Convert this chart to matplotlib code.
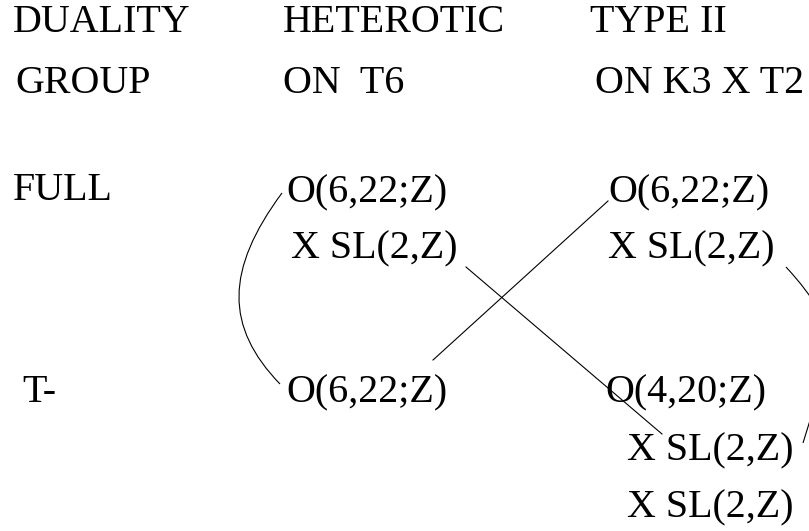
import matplotlib
matplotlib.use("Agg")
import matplotlib.pyplot as plt
from matplotlib.path import Path
from matplotlib.patches import PathPatch

# ---- content ----
header_line1 = ["DUALITY", "HETEROTIC", "TYPE II"]
header_line2 = ["GROUP", "ON  T6", "ON K3 X T2"]
row_labels = ["FULL", "T-"]
hetero_full = ["O(6,22;Z)", "X SL(2,Z)"]
typeii_full = ["O(6,22;Z)", "X SL(2,Z)"]
hetero_t = ["O(6,22;Z)"]
typeii_t = ["O(4,20;Z)", "X SL(2,Z)", "X SL(2,Z)"]

# ---- layout (pixel coordinates, y downward, baseline positions) ----
hdr_x = [13, 283, 590]
hdr2_x = [15, 283, 595]
hdr_y = [32, 93]
row_y = [200, 402]
row_x = [13, 22]
hf_pos = [(286, 202), (291, 258)]
tf_pos = [(608, 202), (608, 258)]
ht_pos = [(286, 402)]
tt_pos = [(605, 402), (627, 460), (627, 517)]

# connectors: (start, ctrl1, ctrl2, end) cubic curves / straight lines
curve_left = [(282, 193), (225, 270), (225, 327), (280, 384)]
curve_right = [(786, 267), (846, 332), (830, 353), (803, 443)]
line_cross_up = [(433, 360), (608, 201)]
line_cross_down = [(466, 267), (662, 434)]

W, H = 809, 531
fig = plt.figure(figsize=(W / 100, H / 100), dpi=100)
ax = fig.add_axes([0, 0, 1, 1])
ax.set_xlim(0, W)
ax.set_ylim(H, 0)
ax.axis("off")

FS = 28.8
tkw = dict(fontsize=FS, family="Liberation Serif", color="black",
           ha="left", va="baseline")

for t, x in zip(header_line1, hdr_x):
    ax.text(x, hdr_y[0], t, **tkw)
for t, x in zip(header_line2, hdr2_x):
    ax.text(x, hdr_y[1], t, **tkw)
for t, x, y in zip(row_labels, row_x, row_y):
    ax.text(x, y, t, **tkw)
for group, pos in [(hetero_full, hf_pos), (typeii_full, tf_pos),
                   (hetero_t, ht_pos), (typeii_t, tt_pos)]:
    for t, (x, y) in zip(group, pos):
        ax.text(x, y, t, **tkw)

codes = [Path.MOVETO, Path.CURVE4, Path.CURVE4, Path.CURVE4]
for c in (curve_left, curve_right):
    ax.add_patch(PathPatch(Path(c, codes), facecolor="none",
                           edgecolor="black", lw=0.8))
for l in (line_cross_up, line_cross_down):
    xs, ys = zip(*l)
    ax.plot(xs, ys, color="black", lw=0.8)

fig.savefig("out.png", dpi=100)
